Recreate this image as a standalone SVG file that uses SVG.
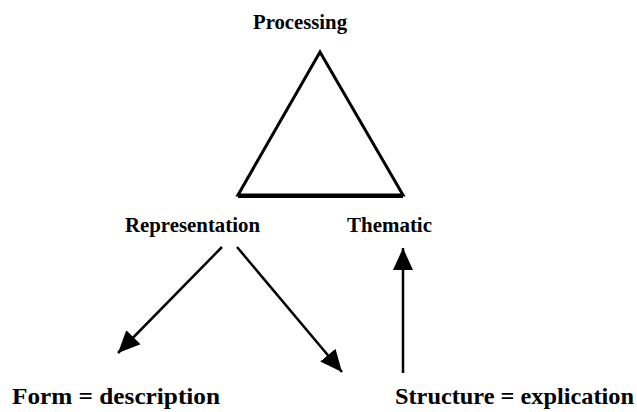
<svg xmlns="http://www.w3.org/2000/svg" width="637" height="412" viewBox="0 0 637 412">
<style>
.lbl{font-family:"Liberation Serif","Times New Roman",serif;font-weight:bold;fill:#000}
.top{font-size:21px}
.bot{font-size:24px}
.edge{stroke:#000;stroke-width:2.5;fill:none}
</style>
<defs>
<marker id="ah" markerUnits="userSpaceOnUse" markerWidth="24" markerHeight="22" viewBox="0 0 24 22" refX="22" refY="11" orient="auto">
<path d="M0,1 L22,11 L0,21 Z" fill="#000"/>
</marker>
</defs>
<rect width="637" height="412" fill="#fff"/>
<g id="processing">
<text class="lbl top" x="253" y="29" textLength="94" lengthAdjust="spacingAndGlyphs">Processing</text>
<path d="M320,52 L238,195 L403,195 Z" fill="none" stroke="#000" stroke-width="3" stroke-linejoin="miter"/>
<line x1="238" y1="196" x2="403" y2="196" stroke="#000" stroke-width="4"/>
</g>
<g id="representation">
<text class="lbl top" x="125" y="232" textLength="135" lengthAdjust="spacingAndGlyphs">Representation</text>
</g>
<g id="thematic">
<text class="lbl top" x="347" y="232" textLength="85" lengthAdjust="spacingAndGlyphs">Thematic</text>
</g>
<g id="form">
<text class="lbl bot" x="12" y="404" textLength="208" lengthAdjust="spacingAndGlyphs">Form = description</text>
</g>
<g id="structure">
<text class="lbl bot" x="395" y="404" textLength="239" lengthAdjust="spacingAndGlyphs">Structure = explication</text>
</g>
<g id="connectors">
<line class="edge" x1="222" y1="247" x2="118" y2="353" marker-end="url(#ah)"/>
<line class="edge" x1="237" y1="247" x2="342" y2="372" marker-end="url(#ah)"/>
<line class="edge" x1="403" y1="373" x2="403" y2="248" marker-end="url(#ah)"/>
</g>
</svg>
